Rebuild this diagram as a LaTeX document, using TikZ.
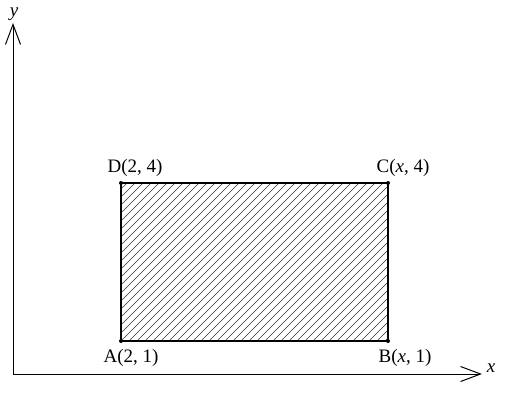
\documentclass[tikz,border=0pt]{standalone}
\usepackage{fontspec}
\setmainfont{Liberation Serif}
\usetikzlibrary{arrows.meta}
\begin{document}
\begin{tikzpicture}[x=1pt,y=-1pt,
  axis/.style={line width=1pt,-{Straight Barb[length=20pt,width=15pt,line width=1pt]}},
  rect/.style={line width=2pt},
  hatch/.style={line width=0.5pt,black!80},
  lbl/.style={font=\fontsize{19}{22}\selectfont,inner sep=0pt},
  dot/.style={circle,fill,inner sep=0pt,minimum size=4pt}]
\useasboundingbox (0,0) rectangle (510,404);
\coordinate (O) at (13,374);
\coordinate (X) at (482,374);
\coordinate (Y) at (13,23);
\draw[axis] (O) -- (X);
\draw[axis] (O) -- (Y);
\node[lbl] (xl) at (491,368) {\itshape x};
\node[lbl] (yl) at (14,14) {\itshape y};
\coordinate (A) at (121,341);
\coordinate (B) at (388,341);
\coordinate (C) at (388,183);
\coordinate (D) at (121,183);
\begin{scope}
\clip (A) rectangle (C);
\foreach \i in {-200,-192,...,300} {
  \draw[hatch] (121+\i,341) -- (121+\i+170,171);
}
\end{scope}
\draw[rect] (A) -- (B) -- (C) -- (D) -- cycle;
\node[dot] (dA) at (A) {};
\node[dot] (dB) at (B) {};
\node[dot] (dC) at (C) {};
\node[dot] (dD) at (D) {};
\node[lbl] (la) at (131,358) {A(2, 1)};
\node[lbl] (lb) at (405,358) {B(\textit{x}, 1)};
\node[lbl] (lc) at (403,168) {C(\textit{x}, 4)};
\node[lbl] (ld) at (135,168) {D(2, 4)};
\end{tikzpicture}
\end{document}
